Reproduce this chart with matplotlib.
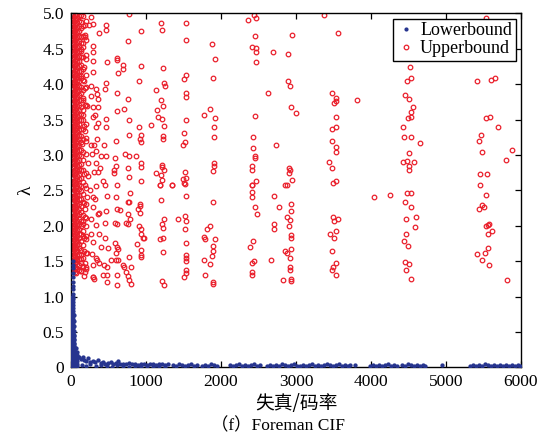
import matplotlib
matplotlib.use("Agg")
import matplotlib.pyplot as plt
from matplotlib.lines import Line2D

# ---- data (x: 失真/码率, y: lambda) ----

# upper bound, dense columns next to x = 0
upper_col_x = [8, 22, 38, 55, 70, 85, 100, 130, 165, 200]
upper_col_y = [
    [1.34, 1.41, 1.48, 1.55, 1.62, 1.69, 1.76, 1.83, 1.90, 1.97, 2.04, 2.11, 2.18, 2.25, 2.32, 2.39, 2.46, 2.53,
     2.60, 2.67, 2.74, 2.81, 2.88, 2.95, 3.02, 3.09, 3.16, 3.23, 3.30, 3.37, 3.44, 3.51, 3.58, 3.65, 3.72, 3.79,
     3.86, 3.93, 4.00, 4.07, 4.14, 4.21, 4.28, 4.35, 4.42, 4.49, 4.56, 4.63, 4.70, 4.77, 4.84, 4.91, 4.98],
    [1.36, 1.43, 1.50, 1.57, 1.64, 1.71, 1.78, 1.85, 1.92, 1.99, 2.06, 2.13, 2.20, 2.27, 2.34, 2.41, 2.48, 2.55,
     2.62, 2.69, 2.76, 2.83, 2.90, 2.97, 3.04, 3.11, 3.18, 3.25, 3.32, 3.39, 3.46, 3.53, 3.60, 3.67, 3.74, 3.81,
     3.88, 3.95, 4.02, 4.09, 4.16, 4.23, 4.30, 4.37, 4.44, 4.51, 4.58, 4.65, 4.72, 4.79, 4.86, 4.93, 4.99],
    [1.38, 1.45, 1.52, 1.58, 1.66, 1.72, 1.80, 1.87, 1.93, 2.00, 2.08, 2.14, 2.22, 2.28, 2.36, 2.42, 2.50, 2.57,
     2.63, 2.71, 2.77, 2.85, 2.91, 2.99, 3.05, 3.13, 3.20, 3.26, 3.34, 3.40, 3.48, 3.54, 3.62, 3.68, 3.76, 3.83,
     3.89, 3.97, 4.03, 4.11, 4.17, 4.25, 4.31, 4.39, 4.45, 4.53, 4.59, 4.67, 4.73, 4.81, 4.88, 4.95],
    [1.35, 1.42, 1.47, 1.56, 1.61, 1.68, 1.75, 1.81, 1.88, 1.96, 2.02, 2.09, 2.17, 2.23, 2.29, 2.37, 2.44, 2.51,
     2.59, 2.65, 2.73, 2.79, 2.87, 2.94, 3.01, 3.08, 3.15, 3.22, 3.29, 3.36, 3.42, 3.50, 3.57, 3.64, 3.71, 3.78,
     3.85, 3.92, 3.99, 4.06, 4.13, 4.20, 4.27, 4.34, 4.41, 4.48, 4.55, 4.62, 4.69, 4.76, 4.83, 4.90, 4.98],
    [1.33, 1.40, 1.49, 1.54, 1.63, 1.70, 1.77, 1.84, 1.91, 1.98, 2.05, 2.12, 2.19, 2.26, 2.33, 2.40, 2.47, 2.54,
     2.61, 2.68, 2.75, 2.82, 2.89, 2.96, 3.03, 3.10, 3.17, 3.24, 3.31, 3.38, 3.45, 3.52, 3.59, 3.66, 3.73, 3.80,
     3.87, 3.94, 4.01, 4.08, 4.15, 4.22, 4.29, 4.36, 4.43, 4.50, 4.57, 4.64, 4.71, 4.78, 4.85, 4.92, 4.97],
    [1.39, 1.46, 1.51, 1.59, 1.65, 1.73, 1.79, 1.86, 1.94, 2.01, 2.07, 2.15, 2.21, 2.29, 2.35, 2.43, 2.49, 2.56,
     2.64, 2.70, 2.78, 2.84, 2.92, 2.98, 3.06, 3.12, 3.19, 3.27, 3.33, 3.41, 3.47, 3.55, 3.61, 3.69, 3.75, 3.82,
     3.90, 3.96, 4.04, 4.10, 4.18, 4.24, 4.32, 4.38, 4.46, 4.52, 4.60, 4.66, 4.74, 4.80, 4.87, 4.94],
    [1.37, 1.44, 1.53, 1.60, 1.68, 1.74, 1.82, 1.89, 1.95, 2.03, 2.10, 2.16, 2.24, 2.30, 2.38, 2.44, 2.52, 2.58,
     2.66, 2.72, 2.80, 2.86, 2.93, 3.00, 3.07, 3.14, 3.22, 3.28, 3.35, 3.43, 3.49, 3.56, 3.63, 3.70, 3.77, 3.84,
     3.91, 3.98, 4.05, 4.12, 4.19, 4.26, 4.33, 4.40, 4.47, 4.54, 4.61, 4.68, 4.75, 4.82, 4.89, 4.96],
    [1.36, 1.47, 1.58, 1.66, 1.79, 1.88, 1.99, 2.07, 2.19, 2.28, 2.38, 2.49, 2.56, 2.68, 2.78, 2.87, 2.98, 3.07,
     3.18, 3.27, 3.36, 3.49, 3.58, 3.67, 3.78, 3.88, 3.96, 4.09, 4.18, 4.27, 4.38, 4.49, 4.58, 4.67, 4.79, 4.88, 4.97],
    [1.42, 1.55, 1.73, 1.86, 2.02, 2.15, 2.34, 2.45, 2.62, 2.79, 2.93, 3.04, 3.22, 3.37, 3.49, 3.63, 3.77, 3.92,
     4.06, 4.22, 4.39, 4.52, 4.68, 4.82, 4.96],
    [1.39, 1.62, 1.85, 2.11, 2.31, 2.53, 2.75, 3.01, 3.19, 3.44, 3.71, 3.96, 4.13, 4.41, 4.63, 4.89],
]

# upper bound, scattered points
upper_pts = [
    # near the left band
    (271, 4.95), (293, 4.85), (236, 4.83), (191, 4.84), (463, 4.84), (463, 4.76), (369, 4.72), (191, 4.69),
    (183, 4.66), (293, 4.54), (160, 4.58), (293, 4.46), (137, 4.47), (204, 4.35), (300, 4.33), (167, 4.24),
    (300, 4.17), (129, 4.12), (173, 4.04), (271, 3.98), (180, 3.94), (337, 3.93), (457, 3.93), (351, 3.86),
    (271, 3.83), (360, 3.79), (160, 3.80), (183, 3.71), (217, 3.69), (293, 3.67), (360, 3.67), (316, 3.56),
    (160, 3.56), (293, 3.53), (470, 3.51), (360, 3.45), (337, 3.40), (173, 3.41), (183, 3.34), (470, 3.39),
    (343, 3.23), (204, 3.24), (151, 3.15), (267, 3.14), (440, 3.14), (307, 3.14), (337, 3.06), (280, 3.01),
    (404, 2.98), (470, 2.99), (223, 2.88), (337, 2.89), (382, 2.82), (313, 2.76), (360, 2.76), (173, 2.73),
    (227, 2.70), (427, 2.63), (183, 2.58), (337, 2.56), (249, 2.51), (213, 2.41), (287, 2.41), (324, 2.38),
    (173, 2.32), (293, 2.26), (183, 2.23), (360, 2.16), (183, 2.13), (273, 2.09), (160, 2.07), (329, 2.01),
    (204, 1.99), (160, 1.93), (263, 1.88), (369, 1.88), (173, 1.82), (204, 1.81), (293, 1.77), (404, 1.70),
    (173, 1.64), (217, 1.62), (280, 1.60), (337, 1.55), (137, 1.53), (351, 1.52), (183, 1.48), (293, 1.44),
    (369, 1.47), (160, 1.43), (204, 1.41), (129, 1.36), (183, 1.34), (300, 1.27), (173, 1.29),
    # x 400 - 3000, upper half
    (770, 4.99), (1200, 4.87), (1530, 4.87), (930, 4.75), (1210, 4.76), (760, 4.61), (1530, 4.62),
    (2360, 4.91), (2440, 4.98), (2470, 4.94), (2450, 4.68), (1880, 4.56), (2420, 4.53), (2470, 4.51),
    (2470, 4.46), (2700, 4.45), (2900, 4.43), (2950, 4.69), (1920, 4.36), (2470, 4.31), (480, 4.31),
    (610, 4.37), (610, 4.34), (690, 4.27), (690, 4.21), (630, 4.16), (930, 4.25), (1230, 4.23), (470, 4.02),
    (910, 4.04), (1240, 4.02), (1250, 3.98), (1510, 4.07), (1530, 4.13), (1900, 4.08), (1130, 3.92),
    (1530, 3.87), (1530, 3.82), (2630, 3.87), (2900, 4.05), (2920, 3.97), (610, 3.88), (760, 3.79),
    (1200, 3.77), (1230, 3.69), (710, 3.65), (610, 3.62), (1150, 3.63), (1160, 3.53), (1210, 3.51),
    (1850, 3.65), (1770, 3.57), (1920, 3.52), (2460, 3.55), (2930, 3.67), (3000, 3.59), (780, 3.49),
    (1530, 3.49), (910, 3.40), (1070, 3.42), (1240, 3.41), (1910, 3.39), (1510, 3.31), (780, 3.28),
    (930, 3.28), (920, 3.22), (930, 3.18), (1230, 3.27), (1230, 3.23), (2430, 3.25), (1520, 3.18),
    (1500, 3.14), (2730, 3.14), (1910, 3.25), (600, 3.20), (2430, 3.10), (720, 3.01), (770, 2.99),
    (870, 2.99), (590, 2.95), (2450, 2.99), (2460, 2.96), (930, 2.88), (930, 2.83), (1220, 2.86),
    (1220, 2.83), (1910, 2.88), (1910, 2.85), (600, 2.84), (760, 2.82), (2420, 2.85), (2910, 2.82),
    (2920, 2.79), (2950, 2.65), (2910, 2.75), (1900, 2.77), (2410, 2.78), (570, 2.74), (580, 2.78),
    (1130, 2.75), (1200, 2.72), (1240, 2.79), (1520, 2.76), (770, 2.69), (930, 2.63), (1210, 2.64),
    (1530, 2.68), (1500, 2.66), (610, 2.57), (1190, 2.57), (1350, 2.57), (1510, 2.61), (2470, 2.63),
    (2420, 2.57), (2860, 2.58),
    # x 400 - 3000, lower half
    (450, 2.57), (480, 2.42), (470, 2.21), (450, 2.04), (450, 1.83), (440, 1.45), (430, 1.31), (300, 1.28),
    (310, 1.25), (370, 2.18), (600, 2.41), (610, 2.24), (660, 2.22), (590, 2.04), (610, 2.02), (730, 2.04),
    (590, 1.75), (610, 1.70), (630, 1.67), (600, 1.62), (490, 1.68), (530, 1.51), (600, 1.51), (630, 1.51),
    (480, 1.42), (480, 1.31), (480, 1.21), (610, 1.30), (610, 1.16), (700, 1.45), (710, 1.42), (780, 1.56),
    (740, 1.34), (760, 1.29), (780, 1.23), (800, 1.41), (800, 1.17), (790, 2.46), (780, 2.33), (760, 2.33),
    (760, 2.16), (790, 2.10), (760, 2.03), (920, 2.30), (920, 2.28), (900, 2.24), (920, 2.18), (910, 2.00),
    (930, 1.95), (940, 1.88), (960, 1.82), (980, 1.83), (880, 1.74), (930, 1.66), (940, 1.58), (940, 1.56),
    (1190, 2.57), (1200, 2.36), (1240, 2.10), (1220, 2.02), (1230, 1.97), (1190, 1.81), (1230, 1.83),
    (1230, 1.63), (1220, 1.22), (1240, 1.16), (1350, 2.57), (1520, 2.59), (1530, 2.42), (1430, 2.09),
    (1520, 2.14), (1540, 2.06), (1520, 1.95), (1540, 1.76), (1530, 1.59), (1530, 1.55), (1530, 1.50),
    (1540, 1.38), (1540, 1.33), (1510, 1.28), (1810, 1.96), (1860, 1.99), (1780, 1.84), (1790, 1.81),
    (1920, 1.81), (1890, 1.71), (1900, 1.65), (1780, 1.51), (1850, 1.46), (1880, 1.57), (1790, 1.30),
    (1890, 1.20), (1890, 1.17), (1900, 2.34), (2410, 2.57), (2420, 2.47), (2420, 2.40), (2460, 2.27),
    (2480, 2.16), (2390, 1.70), (2430, 1.78), (2440, 1.50), (2420, 1.48), (2420, 1.34), (2420, 1.30),
    (2670, 1.51), (2710, 2.42), (2780, 2.26), (2710, 2.02), (2710, 1.95), (2880, 2.58), (2930, 2.30),
    (2930, 2.21), (2880, 2.12), (2920, 2.08), (2910, 2.00), (2930, 1.87), (2930, 1.83), (2850, 1.65),
    (2880, 1.62), (2930, 1.67), (2920, 1.55), (2920, 1.41), (2920, 1.37), (2830, 1.24), (2930, 1.25),
    (2930, 1.22),
    # x > 3000
    (3370, 4.98), (3560, 4.72), (5530, 4.94), (4520, 4.24), (4480, 4.04), (4540, 4.09), (5420, 4.05),
    (5600, 4.06), (5650, 4.09), (3480, 3.87), (3540, 3.80), (3510, 3.73), (3540, 3.76), (3820, 3.77),
    (4460, 3.85), (4510, 3.79), (4560, 3.68), (4530, 3.61), (4530, 3.54), (4490, 3.52), (3530, 3.53),
    (3480, 3.37), (3530, 3.40), (4430, 3.40), (5530, 3.52), (5590, 3.54), (5700, 3.40), (3480, 3.19),
    (3530, 3.11), (3540, 3.04), (4440, 3.26), (4530, 3.26), (4660, 3.17), (4510, 3.03), (4430, 2.90),
    (4480, 2.92), (4580, 2.90), (4510, 2.84), (4510, 2.78), (3440, 2.90), (3480, 2.82), (3490, 2.60),
    (3540, 2.63), (5470, 3.28), (5440, 3.20), (5480, 3.04), (5880, 3.07), (5800, 2.93), (5460, 2.73),
    (5550, 2.73), (5460, 2.58), (4040, 2.41), (4250, 2.44), (4480, 2.46), (4540, 2.46), (4460, 2.33),
    (4540, 2.27), (4470, 2.09), (4600, 2.12), (4590, 1.98), (4470, 1.89), (4440, 1.79), (4490, 1.71),
    (4460, 1.49), (4510, 1.46), (4470, 1.37), (4530, 1.25), (3490, 2.12), (3560, 2.09), (3510, 2.06),
    (3530, 1.92), (3460, 1.89), (3510, 1.83), (3480, 1.64), (3530, 1.47), (3490, 1.42), (3480, 1.38),
    (3540, 1.30), (5530, 2.43), (5480, 2.29), (5510, 2.26), (5440, 2.23), (5560, 2.01), (5580, 2.02),
    (5540, 2.00), (5610, 1.92), (5560, 1.88), (5560, 1.68), (5420, 1.60), (5520, 1.61), (5480, 1.51),
    (5570, 1.44), (5820, 1.24),
]

# lower bound, steep part next to x = 0
lower_col_x = [4, 14, 24, 34, 46, 60, 78]
lower_col_y = [
    [0.02, 0.06, 0.10, 0.14, 0.18, 0.22, 0.26, 0.30, 0.34, 0.38, 0.42, 0.46, 0.50, 0.54, 0.58, 0.62, 0.66,
     0.70, 0.74, 0.78, 0.82, 0.86, 0.90, 0.94],
    [0.04, 0.08, 0.12, 0.16, 0.20, 0.24, 0.28, 0.32, 0.36, 0.40, 0.44, 0.48, 0.52, 0.56, 0.60, 0.64, 0.68,
     0.72, 0.76, 0.80, 0.84, 0.88, 0.92, 0.96, 1.00],
    [0.03, 0.08, 0.12, 0.16, 0.20, 0.24, 0.28, 0.32, 0.36, 0.40, 0.44, 0.48, 0.52, 0.56, 0.60, 0.64, 0.68,
     0.72, 0.76, 0.80, 0.84, 0.88, 0.92, 0.96, 1.00, 1.04, 1.10, 1.15, 1.21, 1.27, 1.33, 1.40, 1.45, 1.50],
    [0.02, 0.06, 0.10, 0.14, 0.18, 0.22, 0.26, 0.30, 0.35, 0.40, 0.46, 0.52, 0.58, 0.66, 0.74],
    [0.02, 0.08, 0.12, 0.16, 0.20, 0.24, 0.28, 0.33, 0.38, 0.44],
    [0.03, 0.06, 0.10, 0.14, 0.18, 0.22, 0.27],
    [0.02, 0.05, 0.09, 0.13, 0.17, 0.21],
]

# lower bound, the long flat tail
lower_pts = [
    (93, 0.15), (110, 0.14), (130, 0.12), (160, 0.14), (175, 0.10), (200, 0.09), (227, 0.13), (260, 0.08),
    (290, 0.09), (320, 0.07), (360, 0.10), (400, 0.06), (430, 0.07), (460, 0.05), (500, 0.06), (537, 0.08),
    (560, 0.05), (600, 0.06), (627, 0.09), (660, 0.04), (700, 0.05), (740, 0.04), (780, 0.06), (820, 0.04),
    (860, 0.05), (900, 0.03), (940, 0.05), (980, 0.04), (1020, 0.03), (1060, 0.05), (1100, 0.04),
    (1140, 0.03), (1180, 0.05), (1220, 0.04), (1260, 0.03), (1300, 0.04),
    (150, 0.03), (200, 0.02), (260, 0.04), (330, 0.02), (400, 0.03), (480, 0.02), (550, 0.01), (620, 0.03),
    (700, 0.02), (770, 0.01), (850, 0.02), (930, 0.01), (1010, 0.02), (1090, 0.01), (1170, 0.02), (1250, 0.01),
    (1360, 0.03), (1400, 0.02), (1440, 0.04), (1480, 0.03), (1520, 0.02), (1560, 0.03), (1600, 0.04),
    (1640, 0.02), (1680, 0.03),
    (1750, 0.02), (1790, 0.03), (1830, 0.02), (1870, 0.04), (1910, 0.03), (1950, 0.02),
    (2120, 0.03), (2160, 0.02), (2200, 0.03), (2240, 0.04), (2280, 0.02), (2320, 0.03), (2360, 0.02),
    (2400, 0.03), (2440, 0.05), (2480, 0.02), (2520, 0.03),
    (2610, 0.02), (2650, 0.03), (2690, 0.02), (2730, 0.03), (2770, 0.02), (2810, 0.04), (2850, 0.03),
    (2890, 0.02), (2930, 0.03), (2970, 0.05), (3010, 0.02),
    (3050, 0.02), (3090, 0.03), (3130, 0.02), (3170, 0.03), (3210, 0.04), (3250, 0.02), (3290, 0.03),
    (3330, 0.02), (3370, 0.03), (3410, 0.04), (3450, 0.03), (3490, 0.02), (3530, 0.03), (3570, 0.04),
    (3610, 0.02), (3650, 0.03), (3690, 0.02), (3720, 0.03), (3790, 0.03),
    (3990, 0.02), (4030, 0.03), (4070, 0.02), (4110, 0.03), (4150, 0.02), (4190, 0.03), (4230, 0.04),
    (4270, 0.02), (4310, 0.03), (4350, 0.02),
    (4410, 0.03), (4450, 0.02), (4490, 0.04), (4530, 0.03), (4570, 0.02), (4610, 0.03), (4650, 0.02),
    (4690, 0.03), (4720, 0.02), (4950, 0.03),
    (5320, 0.02), (5360, 0.03), (5400, 0.02), (5440, 0.03), (5480, 0.02), (5520, 0.04), (5560, 0.03),
    (5600, 0.02), (5640, 0.03), (5680, 0.02), (5720, 0.03), (5760, 0.02), (5800, 0.03), (5840, 0.02),
    (5880, 0.03), (5920, 0.02), (5960, 0.03), (5990, 0.02),
]

x_ticks = [0, 1000, 2000, 3000, 4000, 5000, 6000]
y_ticks = [0, 0.5, 1.0, 1.5, 2.0, 2.5, 3.0, 3.5, 4.0, 4.5, 5.0]
y_ticklabels = ["0", "0.5", "1.0", "1.5", "2.0", "2.5", "3.0", "3.5", "4.0", "4.5", "5.0"]

# ---- assemble ----
ub_x, ub_y = [], []
for cx, ys in zip(upper_col_x, upper_col_y):
    ub_x += [cx] * len(ys)
    ub_y += ys
ub_x += [p[0] for p in upper_pts]
ub_y += [p[1] for p in upper_pts]

lb_x, lb_y = [], []
for cx, ys in zip(lower_col_x, lower_col_y):
    lb_x += [cx] * len(ys)
    lb_y += ys
lb_x += [p[0] for p in lower_pts]
lb_y += [p[1] for p in lower_pts]

RED = "#ea1f2b"
BLUE = "#27358f"
serif = ["Liberation Serif", "Noto Sans CJK SC"]
plt.rcParams["font.family"] = serif

fig = plt.figure(figsize=(5.56, 4.44), dpi=100)
ax = fig.add_axes([0.1277, 0.1727, 0.8093, 0.7973])

ax.plot(ub_x, ub_y, linestyle="none", marker="o", ms=3.3, mew=0.9,
        mfc="none", mec=RED, zorder=2)
ax.plot(lb_x, lb_y, linestyle="none", marker="o", ms=3.1, mew=0,
        mfc=BLUE, zorder=3)

ax.set_xlim(0, 6000)
ax.set_ylim(0, 5)
ax.set_xticks(x_ticks)
ax.set_yticks(y_ticks)
ax.set_yticklabels(y_ticklabels)
ax.tick_params(direction="in", length=4, width=0.9, top=True, right=True,
               labelsize=12.5, pad=5)
for s in ax.spines.values():
    s.set_linewidth(1.0)

ax.set_xlabel("失真/码率", family=["Noto Sans CJK SC"], fontsize=13.5, labelpad=2)
ax.set_ylabel("λ", fontsize=14, labelpad=6)

handles = [
    Line2D([], [], linestyle="none", marker="o", ms=3.0, mew=0, mfc=BLUE),
    Line2D([], [], linestyle="none", marker="o", ms=3.3, mew=0.9, mfc="none", mec=RED),
]
leg = ax.legend(handles, ["Lowerbound", "Upperbound"], loc="upper right",
                bbox_to_anchor=(0.988, 0.985), fontsize=13, frameon=True, fancybox=False,
                edgecolor="black", framealpha=1, borderpad=0.2, labelspacing=0.05,
                handlelength=1.0, handletextpad=0.3, borderaxespad=0)
leg.get_frame().set_linewidth(1.0)

fig.text(0.5, 0.022, "（f）Foreman CIF", ha="center", va="bottom", fontsize=12.5,
         family=serif)

fig.savefig("out.png", dpi=100)
